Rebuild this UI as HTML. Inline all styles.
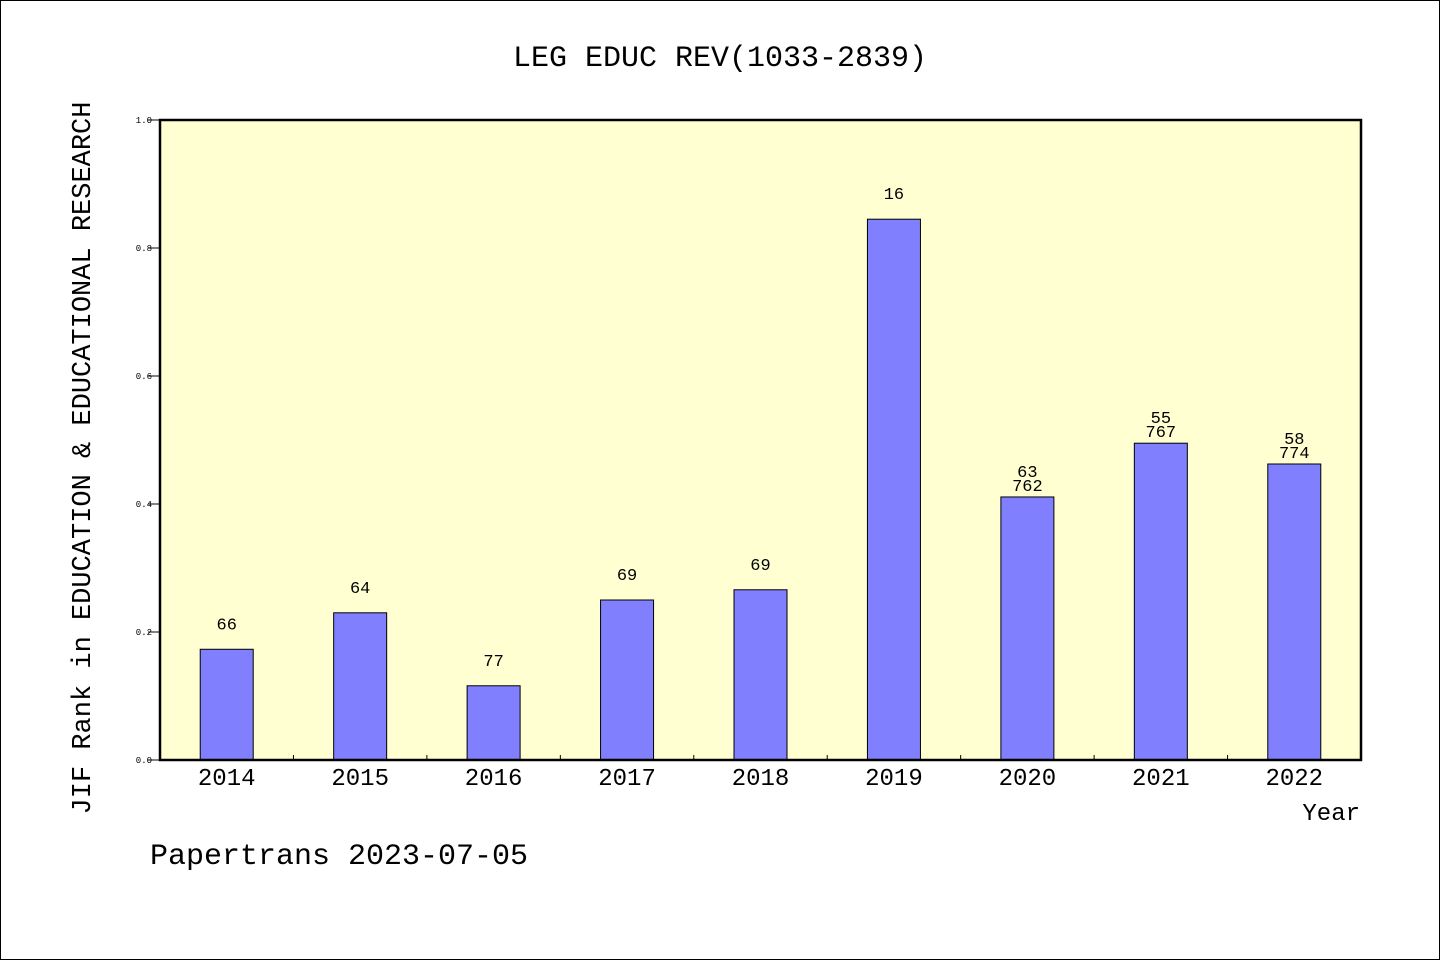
<!DOCTYPE html>
<html><head><meta charset="utf-8"><style>
html,body{margin:0;padding:0;background:#fff}
svg{display:block}
text{font-family:"Liberation Mono","Noto Sans CJK SC",monospace;fill:#000}
</style></head><body>
<svg id="chart" width="1440" height="960" viewBox="0 0 1440 960" xmlns="http://www.w3.org/2000/svg">
<rect x="0.5" y="0.5" width="1439" height="959" fill="#fff" stroke="#000"/>
<text x="720" y="66" font-size="30" text-anchor="middle">LEG EDUC REV(1033-2839)</text>
<rect x="160" y="120" width="1201" height="640" fill="#ffffd2"/>
<g id="bars"></g>
<g id="ticks"></g>
<rect x="160" y="120" width="1201" height="640" fill="none" stroke="#000" stroke-width="2.5"/>
<text transform="translate(90,458) rotate(-90)" font-size="27" text-anchor="middle">JIF Rank in EDUCATION &amp; EDUCATIONAL RESEARCH</text>
<text x="1360" y="820" font-size="24" text-anchor="end">Year</text>
<text x="150" y="864" font-size="30">Papertrans 2023-07-05</text>
</svg>
<script>
const years=['2014','2015','2016','2017','2018','2019','2020','2021','2022'];
const values=[0.173,0.230,0.116,0.250,0.266,0.845,0.411,0.495,0.4625];
const ranks=['66','64','77','69','69','16','63','55','58'];
const totals=['','','','','','','762','767','774'];
const yTicks=[0,0.2,0.4,0.6,0.8,1.0];
const X0=160,X1=1361,Y0=760,Y1=120;
const bw=(X1-X0)/years.length;
const xc=i=>X0+bw*(i+0.5);
const y=v=>Y0-(Y0-Y1)*v;
const NS='http://www.w3.org/2000/svg';
const bars=document.getElementById('bars'),ticks=document.getElementById('ticks');
function mk(tag,attrs,parent){const e=document.createElementNS(NS,tag);for(const k in attrs)e.setAttribute(k,attrs[k]);parent.appendChild(e);return e;}
years.forEach((yr,i)=>{
  const top=y(values[i]);
  const r=mk('rect',{x:xc(i)-26.5,y:top,width:53,height:Y0-top,fill:'#8080ff',stroke:'#000','stroke-width':1},bars);
  
  
  if(totals[i]){
    const t1=mk('text',{x:xc(i),y:top-20,'font-size':17,'text-anchor':'middle'},bars);t1.textContent=ranks[i];
    
    
    const t2=mk('text',{x:xc(i),y:top-6,'font-size':17,'text-anchor':'middle'},bars);t2.textContent=totals[i];
    
    
  } else {
    const t=mk('text',{x:xc(i),y:top-20,'font-size':17,'text-anchor':'middle'},bars);t.textContent=ranks[i];
    
    
  }
  const xl=mk('text',{x:xc(i),y:785,'font-size':24,'text-anchor':'middle'},ticks);xl.textContent=yr;
  
  
  if(i>0){const tk=mk('line',{x1:X0+bw*i,x2:X0+bw*i,y1:Y0,y2:Y0-5,stroke:'#000'},ticks);
    
    }
});
yTicks.forEach(v=>{
  const ln=mk('line',{x1:X0-12,x2:X0,y1:y(v),y2:y(v),stroke:'#000'},ticks);
  
  
  const t=mk('text',{x:X0-8,y:y(v)+3,'font-size':9,'text-anchor':'end'},ticks);t.textContent=v.toFixed(1);
  
  
});
</script>
</body></html>
